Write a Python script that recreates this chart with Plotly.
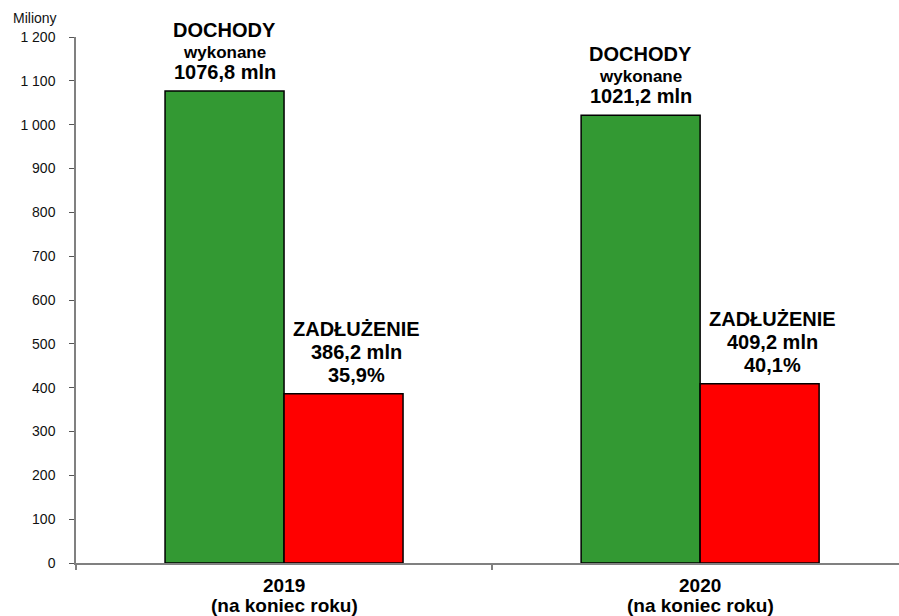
import plotly.graph_objects as go

categories = ["2019", "2020"]
category_sub = "(na koniec roku)"
dochody = [1076.8, 1021.2]
zadluzenie = [386.2, 409.2]
zadl_pct = [35.9, 40.1]
y_ticks = [0, 100, 200, 300, 400, 500, 600, 700, 800, 900, 1000, 1100, 1200]

def pl(v):
    return f"{v:.1f}".replace(".", ",")

FONT = "Liberation Sans, Arial"
bar_w = 0.286

fig = go.Figure()
fig.add_trace(go.Bar(x=categories, y=dochody, name="Dochody",
                     marker=dict(color="#339933", line=dict(color="black", width=1.5))))
fig.add_trace(go.Bar(x=categories, y=zadluzenie, name="Zadłużenie",
                     marker=dict(color="#FF0000", line=dict(color="black", width=1.5))))

ann = []

def label(x, y, text, size, shift, xshift=0):
    ann.append(dict(x=x, y=y, xref="x", yref="y", yanchor="middle", yshift=shift, xshift=xshift,
                    showarrow=False, align="center", text=f"<b>{text}</b>",
                    font=dict(family=FONT, size=size, color="black")))

for i in range(len(categories)):
    xd = i - bar_w / 2
    xz = i + bar_w / 2
    label(xd, dochody[i], "DOCHODY", 20, 61)
    label(xd, dochody[i], "wykonane", 17, 39)
    label(xd, dochody[i], f"{pl(dochody[i])} mln", 20, 19)
    label(xz, zadluzenie[i], "ZADŁUŻENIE", 20, 65, 13)
    label(xz, zadluzenie[i], f"{pl(zadluzenie[i])} mln", 20, 42, 13)
    label(xz, zadluzenie[i], f"{pl(zadl_pct[i])}%", 20, 19, 13)
    ann.append(dict(x=i, y=0, xref="x", yref="paper", yanchor="middle", yshift=-22,
                    showarrow=False, text=f"<b>{categories[i]}</b>",
                    font=dict(family=FONT, size=19, color="black")))
    ann.append(dict(x=i, y=0, xref="x", yref="paper", yanchor="middle", yshift=-42,
                    showarrow=False, text=f"<b>{category_sub}</b>",
                    font=dict(family=FONT, size=19, color="black")))

ann.append(dict(xref="paper", yref="paper", x=(11 - 76) / (899 - 76), y=(563 - 18) / (563 - 37),
                xanchor="left", yanchor="middle", showarrow=False,
                text="Miliony", font=dict(family=FONT, size=14, color="#111")))

fig.update_layout(
    width=899, height=616,
    margin=dict(l=76, r=0, t=37, b=53, autoexpand=False),
    plot_bgcolor="white", paper_bgcolor="white",
    barmode="group", bargap=1 - 2 * bar_w, bargroupgap=0,
    showlegend=False,
    separators=", ",
    annotations=ann,
    font=dict(family=FONT, color="#111"),
)
fig.update_xaxes(range=[-0.5, 1.478], tickson="boundaries", ticks="outside", ticklen=5, tickcolor="#808080",
                 tickwidth=1.5, showline=True, linecolor="#808080", linewidth=1.5, showgrid=False,
                 showticklabels=False, automargin=False)
fig.update_yaxes(range=[0, 1200], tickvals=y_ticks, ticks="outside", ticklen=5, tickcolor="#555",
                 showline=True, linecolor="#808080", linewidth=1.5, showgrid=False, zeroline=False,
                 tickformat=",d", ticklabelstandoff=11, automargin=False,
                 tickfont=dict(family=FONT, size=14, color="#111"))

fig.write_html("out.html", config={"displayModeBar": False},
               post_script="document.body.style.margin='0';document.body.style.overflow='hidden';")
